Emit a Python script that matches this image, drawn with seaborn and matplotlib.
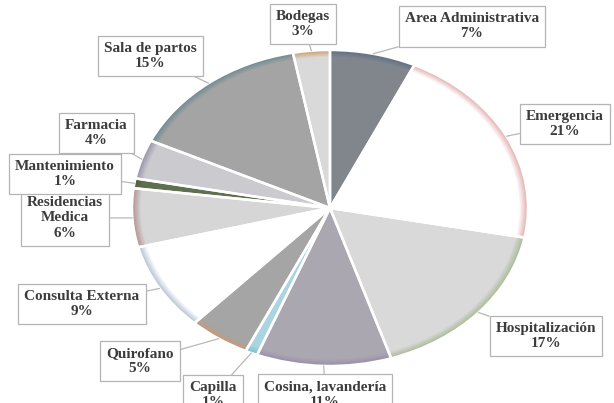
import numpy as np
import matplotlib
matplotlib.use("Agg")
import matplotlib.pyplot as plt
import matplotlib.colors as mcolors
import seaborn as sns

# ---- data ----
categories = ["Area Administrativa", "Emergencia", "Hospitalización",
              "Cosina, lavandería", "Capilla", "Quirofano", "Consulta Externa",
              "Residencias\nMedica", "Mantenimiento", "Farmacia",
              "Sala de partos", "Bodegas"]
values = [7, 21, 17, 11, 1, 5, 9, 6, 1, 4, 15, 3]

# ---- style ----
face_colors = ["#80868c", "#ffffff", "#d9d9d9", "#aba7b1", "#a9d4e0", "#a5a5a5",
               "#ffffff", "#d6d6d6", "#5f7050", "#cbcacf", "#a4a4a4", "#d9d9d9"]
edge_colors = ["#5d7085", "#e3b0b0", "#a9b995", "#9a8eaa", "#7fbdd0", "#c99a78",
               "#b4c0d0", "#b39393", "#4e6040", "#9b92ab", "#6d8a92", "#cf9f70"]
# label centres (data coords of the stretched pie, radius = 1)
label_pos = [(0.717, 1.150), (1.187, 0.532), (1.091, -0.810), (-0.025, -1.180),
             (-0.591, -1.185), (-0.960, -0.968), (-1.253, -0.608), (-1.338, -0.063),
             (-1.338, 0.215), (-1.180, 0.475), (-0.909, 0.962), (-0.136, 1.165)]

sns.set_style("white")
plt.rcParams["font.family"] = ["Liberation Serif", "DejaVu Serif"]

fig = plt.figure(figsize=(6.14, 4.03), dpi=100)
ax = fig.add_axes([132 / 614, 37 / 403, 396 / 614, 316 / 403])

n_layers = 7
for k in range(n_layers):
    t = k / (n_layers - 1)
    cols = [tuple(np.array(mcolors.to_rgb(e)) * (1 - t) + np.array(mcolors.to_rgb(f)) * t)
            for f, e in zip(face_colors, edge_colors)]
    ax.pie(values, colors=cols, startangle=90, counterclock=False,
           radius=1 - k * 0.007,
           wedgeprops=dict(edgecolor="none", linewidth=0))

# white separators between wedges
ax.pie(values, startangle=90, counterclock=False, radius=1.0,
       wedgeprops=dict(fill=False, edgecolor="white", linewidth=1.8))

ax.set_aspect("auto")
ax.set_xlim(-1, 1)
ax.set_ylim(-1, 1)
ax.axis("off")

total = float(sum(values))
cum = np.cumsum(values)
for i, (cat, v) in enumerate(zip(categories, values)):
    mid = (cum[i] - v / 2) / total
    ang = np.deg2rad(90 - 360 * mid)
    xy = (np.cos(ang), np.sin(ang))
    pct = round(100 * v / total)
    ax.annotate(f"{cat}\n{pct}%", xy=xy, xytext=label_pos[i],
                textcoords="data", ha="center", va="center",
                fontsize=11, fontweight="bold", color="#3c3c3c",
                linespacing=1.22, annotation_clip=False,
                bbox=dict(boxstyle="square,pad=0.4", fc="white",
                          ec="#b4b4b4", lw=0.9),
                arrowprops=dict(arrowstyle="-", color="#b8b8b8", lw=0.9,
                                shrinkA=0, shrinkB=0))

fig.savefig("out.png", dpi=100)
